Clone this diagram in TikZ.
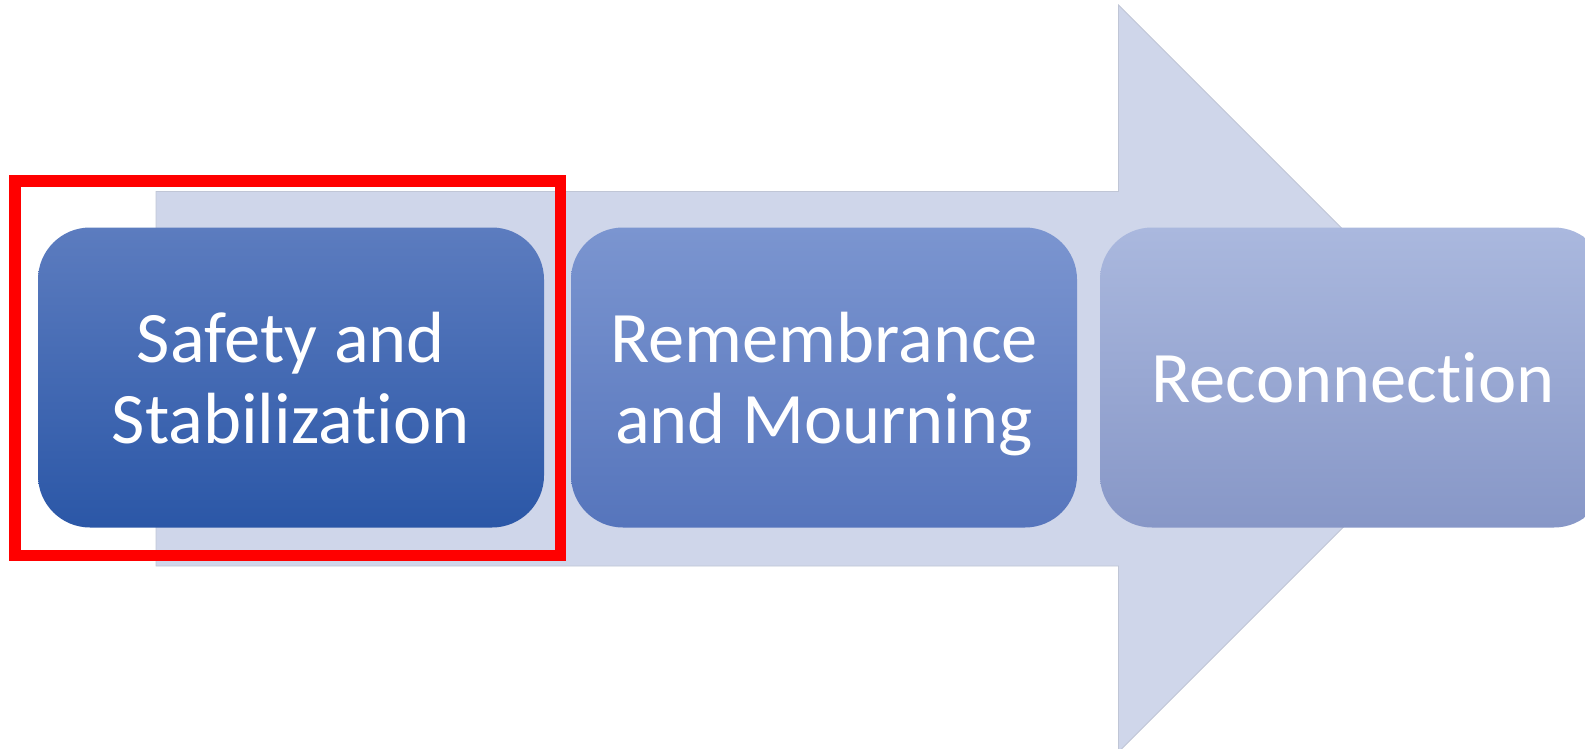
\documentclass[tikz,border=0pt]{standalone}
\usepackage{fontspec}
\setmainfont{Carlito}[Ligatures={NoCommon}]
\definecolor{arrowfill}{RGB}{207,214,234}
\definecolor{arrowline}{RGB}{192,198,214}
\definecolor{bAtop}{RGB}{92,124,191}
\definecolor{bAbot}{RGB}{43,87,167}
\definecolor{bBtop}{RGB}{123,149,208}
\definecolor{bBbot}{RGB}{86,117,188}
\definecolor{bCtop}{RGB}{170,184,222}
\definecolor{bCbot}{RGB}{135,151,199}
\begin{document}
\begin{tikzpicture}[x=1pt,y=-1pt,
  phase/.style={rectangle, rounded corners=52pt, minimum width=506pt,
    minimum height=300pt, inner sep=0pt, align=center, text=white,
    text depth=0pt, font=\fontsize{72.5}{81}\selectfont},
  focusbox/.style={draw=red, line width=11.5pt}]
\useasboundingbox (0,0) rectangle (1585,749);
% big background arrow
\coordinate (a1) at (156,191.5);
\coordinate (a2) at (1118.5,191.5);
\coordinate (a3) at (1118.5,5);
\coordinate (tip) at (1492,378.5);
\coordinate (a5) at (1118.5,752);
\coordinate (a6) at (1118.5,566);
\coordinate (a7) at (156,566);
\fill[arrowfill] (a1) -- (a2) -- (a3) -- (tip) -- (a5) -- (a6) -- (a7) -- cycle;
\draw[arrowline, line width=0.8pt] (a1) -- (a2) -- (a3) -- (tip) -- (a5) -- (a6) -- (a7) -- cycle;
% phases
\node[phase, top color=bAtop, bottom color=bAbot] (s1) at (291,377.5) {Safety and\\Stabilization};
\node[phase, top color=bBtop, bottom color=bBbot] (s2) at (824,377.5) {Remembrance\\and Mourning};
\node[phase, top color=bCtop, bottom color=bCbot] (s3) at (1353,377.5) {Reconnection};
% highlight
\draw[focusbox] (14.75,180.75) rectangle (560.25,555.25);
\end{tikzpicture}
\end{document}
